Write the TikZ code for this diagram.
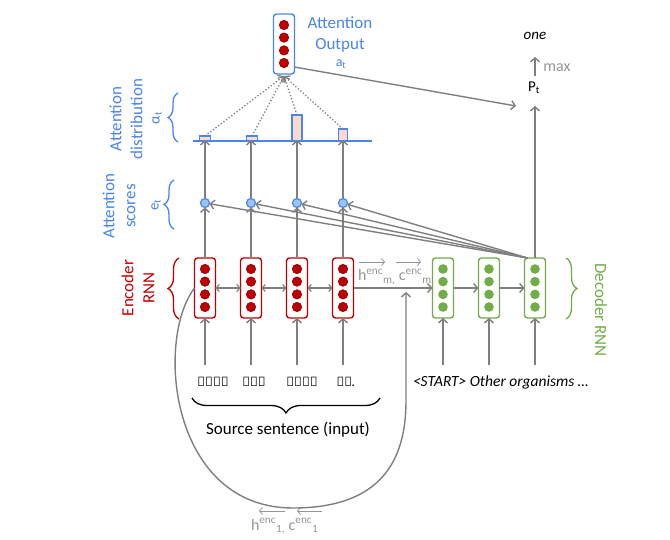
\documentclass[tikz,border=0pt]{standalone}
\usepackage{fontspec}
\setmainfont{Carlito}
\newfontfamily\cherfont{Noto Sans}
\usetikzlibrary{arrows.meta,calc,decorations.pathreplacing}
\definecolor{cgray}{HTML}{7F7F7F}
\definecolor{clab}{HTML}{959595}
\definecolor{cblue}{HTML}{4A86E8}
\definecolor{cred}{HTML}{C00000}
\definecolor{cdred}{HTML}{8E0000}
\definecolor{cgreen}{HTML}{70AD47}
\definecolor{cpink}{HTML}{FAD9CE}
\definecolor{clblue}{HTML}{9DC3F0}
\begin{document}
\begin{tikzpicture}[x=1pt,y=-1pt,
  every node/.style={inner sep=0pt, outer sep=0pt},
  cell/.style={draw, rounded corners=3pt, line width=1.4pt, minimum width=21pt, minimum height=60pt, fill=white},
  encbox/.style={cell, draw=cred},
  decbox/.style={cell, draw=cgreen},
  outbox/.style={cell, draw=cblue},
  gline/.style={draw=cgray, line width=1.4pt},
  arr/.style={gline, -{Straight Barb[length=4pt,width=9pt]}},
  darr/.style={draw=cgray, line width=1.2pt, {Straight Barb[length=3pt,width=7pt]}-{Straight Barb[length=3pt,width=7pt]}},
  thinarr/.style={draw=clab, line width=0.8pt, -{Straight Barb[length=3pt,width=7pt]}},
  scorec/.style={circle, draw=cblue, fill=clblue, line width=1.2pt, minimum size=9pt},
  barb/.style={draw=cblue, fill=cpink, line width=1.3pt, anchor=south},
  lbl/.style={font=\fontsize{17}{21}\selectfont, align=center},
  bluelbl/.style={lbl, text=cblue},
  sublbl/.style={font=\fontsize{15}{18}\selectfont},
  brc/.style={decorate, line width=1.3pt, decoration={brace, amplitude=11pt, aspect=0.5}},
  word/.style={font=\cherfont\bfseries\itshape\fontsize{13}{16}\selectfont},
  hlab/.style={text=clab, font=\fontsize{16}{19}\selectfont, anchor=base west}
]
\useasboundingbox (0,0) rectangle (670,540);

% --- Encoder boxes
\node[encbox] (e1) at (205,288) {};
\node[encbox] (e2) at (251,288) {};
\node[encbox] (e3) at (297,288) {};
\node[encbox] (e4) at (343,288) {};
% --- Decoder boxes
\node[decbox] (d1) at (443,288) {};
\node[decbox] (d2) at (489,288) {};
\node[decbox] (d3) at (535,288) {};
% --- Attention output box
\node[outbox] (ob) at (284,44) {};

\foreach \n in {e1,e2,e3,e4,ob}{
  \foreach \dy in {-19,-6.4,6.4,19}{
    \filldraw[fill=cred, draw=cdred, line width=0.6pt] ($(\n)+(0,\dy)$) circle (4.7);
  }
}
\foreach \n in {d1,d2,d3}{
  \foreach \dy in {-19,-6.4,6.4,19}{
    \fill[cgreen] ($(\n)+(0,\dy)$) circle (4.8);
  }
}

% --- attention scores
\node[scorec] (s1) at (205,203) {};
\node[scorec] (s2) at (251,203) {};
\node[scorec] (s3) at (297,203) {};
\node[scorec] (s4) at (343,203) {};

% --- attention distribution bars
\node[barb, minimum width=11pt, minimum height=5pt] (b1) at (205,141) {};
\node[barb, minimum width=11pt, minimum height=5pt] (b2) at (252,141) {};
\node[barb, minimum width=10pt, minimum height=26pt] (b3) at (297,141) {};
\node[barb, minimum width=9pt, minimum height=12pt] (b4) at (343,141) {};
\coordinate (bl0) at (193,141);
\coordinate (bl1) at (372,141);
\draw[draw=cblue, line width=1.5pt] (bl0) -- (bl1);

% --- vertical arrows encoder -> scores -> distribution
\foreach \i in {1,2,3,4}{
  \draw[arr] (e\i.north) -- (s\i);
  \draw[arr, shorten >=-1pt] (s\i) -- (s\i |- b\i.south);
}

% --- dotted to attention output
\foreach \i in {1,2,3,4}{
  \draw[draw=cgray, line width=1.3pt, dotted, -{Straight Barb[length=4pt,width=9pt]}] (b\i.north) -- ($(ob.south)+(0,2)$);
}

% --- decoder to scores
\foreach \i in {1,2,3,4}{
  \draw[arr] ($(d3.north west)+(3,0)$) -- (s\i);
}

% --- encoder horizontal double arrows
\draw[darr] (e1) -- (e2);
\draw[darr] (e2) -- (e3);
\draw[darr] (e3) -- (e4);
\draw[arr] (e4) -- (d1);
\draw[arr] (d1) -- (d2);
\draw[arr] (d2) -- (d3);

% --- P_t and output
\node[font=\fontsize{15}{18}\selectfont] (pt) at (534,88) {P\textsubscript{t}};
\node[font=\itshape\fontsize{15}{18}\selectfont] (one) at (535,36) {one};
\node[font=\fontsize{16}{19}\selectfont, text=clab] (mx) at (557,68) {max};
\coordinate (ptin) at (516,106);
\coordinate (mx0) at (535,76);
\coordinate (mx1) at (535,57);
\draw[arr] (d3.north) -- (d3.north |- ptin);
\draw[arr] (mx0) -- (mx1);
\draw[arr] ($(ob.south east)+(0,-7)$) -- (ptin);
\node[text=cblue, font=\fontsize{14}{17}\selectfont] (at) at (341,64) {a\textsubscript{t}};
\node[bluelbl] (aol) at (340,34) {Attention\\Output};

% --- inputs
\node[word] (w1) at (213,382) {ᎠᏂᏏᎢ};
\node[word] (w2) at (254,382) {ᎡᎾᎢ};
\node[word] (w3) at (302,382) {ᏂᏓᏅᏁ};
\node[word] (w4) at (346,382) {ᎦᏓ.};
\coordinate (ein1) at (205,365);
\coordinate (ein2) at (251,365);
\coordinate (ein3) at (297,365);
\coordinate (ein4) at (343,365);
\foreach \i in {1,2,3,4}{ \draw[arr] (ein\i) -- (e\i.south); }
\node[anchor=west, font=\itshape\fontsize{15.5}{18}\selectfont] (din) at (413,382) {<START> Other organisms …};
\coordinate (din1) at (443,365);
\coordinate (din2) at (489,365);
\coordinate (din3) at (535,365);
\foreach \i in {1,2,3}{ \draw[arr] (din\i) -- (d\i.south); }

% --- source brace
\coordinate (sb0) at (192,398);
\coordinate (sb1) at (380,398);
\draw[brc, decoration={mirror, amplitude=15pt}] (sb0) -- (sb1);
\node[lbl] (src) at (288,430) {Source sentence (input)};

% --- big loop
\coordinate (loopend) at (406,292);
\draw[arr] (e1.west) .. controls (155,340) and (170,508) .. (293,508)
   .. controls (390,508) and (406,450) .. (406,400) -- (loopend);
\node[hlab] (h1) at (251,530) {h\textsuperscript{enc}\textsubscript{1,} c\textsuperscript{enc}\textsubscript{1}};
\coordinate (ha0) at (285,511); \coordinate (ha1) at (259,511);
\coordinate (hb0) at (322,511); \coordinate (hb1) at (297,511);
\draw[thinarr] (ha0) -- (ha1);
\draw[thinarr] (hb0) -- (hb1);

\node[hlab] (hm) at (358,281) {h\textsuperscript{enc}\textsubscript{m,} c\textsuperscript{enc}\textsubscript{m}};
\coordinate (hc0) at (359,262); \coordinate (hc1) at (385,262);
\coordinate (hd0) at (396,262); \coordinate (hd1) at (421,262);
\draw[thinarr] (hc0) -- (hc1);
\draw[thinarr] (hd0) -- (hd1);

% --- braces and side labels
\coordinate (ebr0) at (179,319); \coordinate (ebr1) at (179,258);
\draw[brc, draw=cred] (ebr0) -- (ebr1);
\node[lbl, text=cred, rotate=90] (elab) at (138,288) {Encoder\\RNN};

\coordinate (dbr0) at (566,258); \coordinate (dbr1) at (566,319);
\draw[brc, draw=cgreen] (dbr0) -- (dbr1);
\node[lbl, text=cgreen, rotate=-90] (dlab) at (601,310) {Decoder RNN};

\coordinate (sbr0) at (174,229); \coordinate (sbr1) at (174,180);
\draw[brc, draw=cblue, decoration={amplitude=10pt}] (sbr0) -- (sbr1);
\node[sublbl, text=cblue, rotate=90] (et) at (156,205) {e\textsubscript{t}};
\node[bluelbl, rotate=90] (slab) at (119,206) {Attention\\scores};

\coordinate (abr0) at (178,142); \coordinate (abr1) at (178,93);
\draw[brc, draw=cblue, decoration={amplitude=10pt}] (abr0) -- (abr1);
\node[sublbl, text=cblue, rotate=90] (alt) at (157,118) {α\textsubscript{t}};
\node[bluelbl, rotate=90] (alab) at (126,119) {Attention\\distribution};
\end{tikzpicture}
\end{document}
